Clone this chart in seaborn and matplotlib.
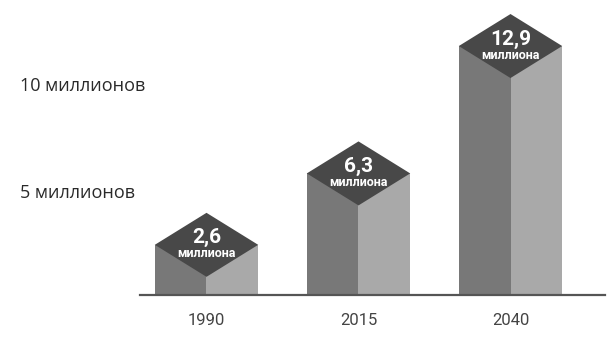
import matplotlib
matplotlib.use("Agg")
import matplotlib.pyplot as plt
import matplotlib.transforms as mtrans
import seaborn as sns
import pandas as pd

# ---- data ----
years = ["1990", "2015", "2040"]
values = [2.6, 6.3, 12.9]
value_labels = ["2,6", "6,3", "12,9"]
unit_label = "миллиона"
y_tick_values = [5, 10]
y_tick_labels = ["5 миллионов", "10 миллионов"]

# ---- style ----
C_LEFT = "#787878"
C_RIGHT = "#a9a9a9"
C_TOP = "#484848"
C_BASE = "#555555"

sns.set_theme(style="white")
plt.rcParams["font.family"] = ["DejaVu Sans"]

W, H = 610, 343
fig = plt.figure(figsize=(W / 100, H / 100), dpi=100)
ax = fig.add_axes([0, 0, 1, 1])

# layout in pixels
x0_px, dx_px = 206.5, 152.0     # center of first category, spacing
base_px = 48.0                  # baseline from bottom
ppu = 19.3                      # pixels per million
bar_w = 0.68
diamond_h = 32.0 / ppu          # half-height of top diamond in data units

df = pd.DataFrame({
    "year": years * 2,
    "value": values * 2,
    "face": ["left"] * 3 + ["right"] * 3,
})
sns.barplot(data=df, x="year", y="value", hue="face", order=years,
            hue_order=["left", "right"], palette=[C_LEFT, C_RIGHT],
            width=bar_w, dodge=True, saturation=1, linewidth=0,
            legend=False, ax=ax, errorbar=None)

# top diamonds + labels
hw = bar_w / 2
for i, v in enumerate(values):
    xs = [i - hw, i, i + hw, i]
    ys = [v, v + diamond_h, v, v - diamond_h]
    ax.fill(xs, ys, color=C_TOP, lw=0, zorder=3)
    ax.text(i, v + 1.5 / ppu, value_labels[i], ha="center", va="baseline",
            color="white", fontsize=15, fontweight="bold",
            family="Roboto", zorder=4)
    ax.text(i, v - 12.5 / ppu, unit_label, ha="center", va="baseline",
            color="white", fontsize=9, fontweight="bold",
            family="Roboto", zorder=4)

ax.set_xlim(-x0_px / dx_px, (W - x0_px) / dx_px)
ax.set_ylim(-base_px / ppu, (H - base_px) / ppu)

for s in ["top", "right", "left"]:
    ax.spines[s].set_visible(False)
ax.spines["bottom"].set_position(("data", 0))
ax.spines["bottom"].set_bounds((140 - x0_px) / dx_px, (605 - x0_px) / dx_px)
ax.spines["bottom"].set_color(C_BASE)
ax.spines["bottom"].set_linewidth(1.6)
ax.spines["bottom"].set_zorder(5)

ax.set_xlabel("")
ax.set_ylabel("")
ax.tick_params(axis="x", length=0, pad=13, labelsize=12, labelcolor="#444444")
for lab in ax.get_xticklabels():
    lab.set_family("Roboto")

ax.set_yticks(y_tick_values)
ax.set_yticklabels(y_tick_labels)
ax.tick_params(axis="y", length=0, pad=-14.4, labelsize=13, labelcolor="#2a2a2a")
label_shift_px = [8, 18]
for lab, sh in zip(ax.get_yticklabels(), label_shift_px):
    lab.set_horizontalalignment("left")
    lab.set_family("Open Sans")
    off = mtrans.ScaledTranslation(0, sh / 100, fig.dpi_scale_trans)
    lab.set_transform(lab.get_transform() + off)

ax.grid(False)
fig.savefig("out.png", dpi=100)
